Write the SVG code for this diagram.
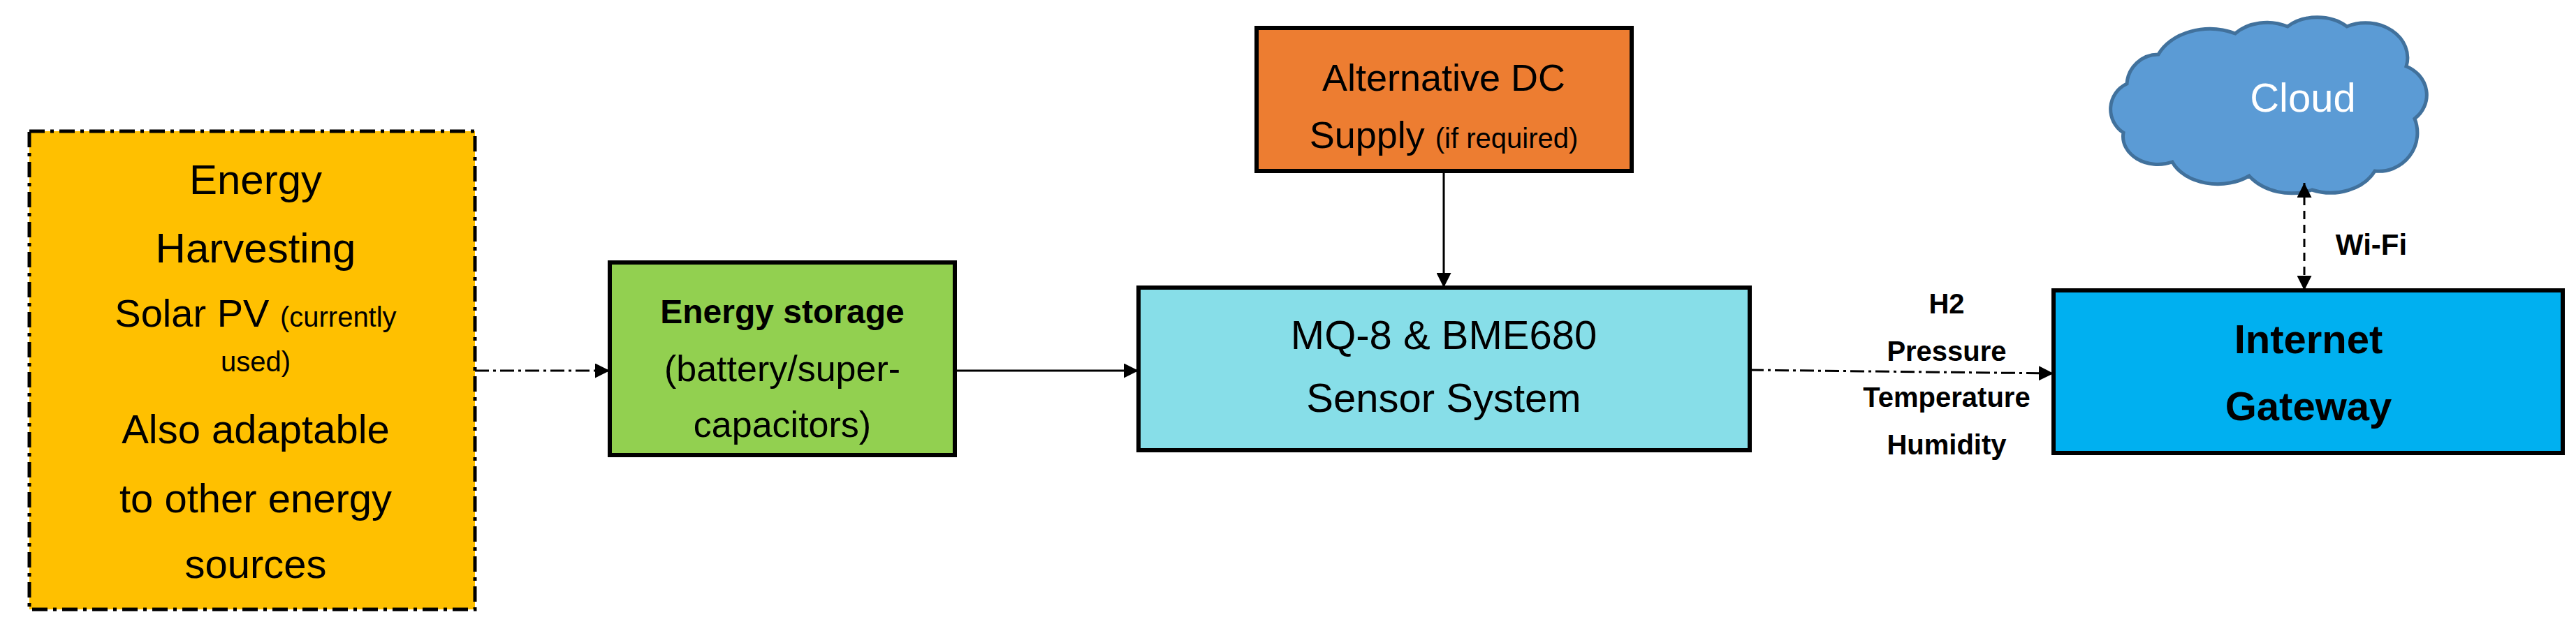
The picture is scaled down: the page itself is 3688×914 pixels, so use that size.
<svg xmlns="http://www.w3.org/2000/svg" width="3688" height="914" viewBox="0 0 3688 914">
<style>
.t{font-family:"Liberation Sans Narrow","Liberation Sans",Arial,sans-serif;text-anchor:middle;fill:#000}
.box{stroke:#000;stroke-width:6}
.b{font-weight:bold}
.c{stroke:#000;stroke-width:3;fill:none}
</style>
<defs>
<marker id="a" viewBox="0 0 10 10" refX="10" refY="5" markerWidth="6" markerHeight="6" markerUnits="userSpaceOnUse" orient="auto-start-reverse"><path d="M0,0L10,5L0,10z" fill="#000" transform="scale(1)"/></marker>
<marker id="m" viewBox="0 0 10 10" refX="10" refY="5" markerWidth="7" markerHeight="7" orient="auto-start-reverse"><path d="M0,0L10,5L0,10z" fill="#000"/></marker>
</defs>
<rect width="3688" height="914" fill="#fff"/>
<g id="harvest">
<rect x="42" y="188" width="638" height="685" fill="#FFC000" stroke="#000" stroke-width="5" stroke-dasharray="22,8,5,8"/>
<text class="t" x="366" y="278" font-size="60">Energy</text>
<text class="t" x="366" y="376" font-size="60">Harvesting</text>
<text class="t" x="366" y="468" font-size="56">Solar PV <tspan font-size="40">(currently</tspan></text>
<text class="t" x="366" y="532" font-size="40">used)</text>
<text class="t" x="366" y="635" font-size="58">Also adaptable</text>
<text class="t" x="366" y="734" font-size="58">to other energy</text>
<text class="t" x="366" y="828" font-size="58">sources</text>
</g>
<g id="storage">
<rect class="box" x="873" y="376" width="494" height="276" fill="#92D050"/>
<text class="t b" x="1120" y="463" font-size="48">Energy storage</text>
<text class="t" x="1120" y="546" font-size="52">(battery/super-</text>
<text class="t" x="1120" y="626" font-size="52">capacitors)</text>
</g>
<g id="sensor">
<rect class="box" x="1630" y="412" width="875" height="233" fill="#87DEE8"/>
<text class="t" x="2067" y="500" font-size="58">MQ-8 &amp; BME680</text>
<text class="t" x="2067" y="590" font-size="58">Sensor System</text>
</g>
<g id="altdc">
<rect class="box" x="1799" y="40" width="537" height="205" fill="#ED7D31"/>
<text class="t" x="2067" y="130" font-size="54">Alternative DC</text>
<text class="t" x="2067" y="212" font-size="54">Supply <tspan font-size="40">(if required)</tspan></text>
</g>
<g id="gateway">
<rect class="box" x="2940" y="416" width="729" height="233" fill="#00B0F0"/>
<text class="t b" x="3305" y="506" font-size="58">Internet</text>
<text class="t b" x="3305" y="602" font-size="58">Gateway</text>
</g>
<g id="cloud">
<path d="M3045,120 A45,45 0 0 1 3090,78 A80,60 0 0 1 3200,48 A60,45 0 0 1 3275,38 A60,45 0 0 1 3360,38 A60,50 0 0 1 3445,95 A50,45 0 0 1 3457,170 A55,55 0 0 1 3400,245 A70,55 0 0 1 3310,272 A75,60 0 0 1 3220,252 A70,50 0 0 1 3110,232 A50,40 0 0 1 3040,190 A40,40 0 0 1 3045,120 Z" fill="#5B9BD5" stroke="#41719C" stroke-width="5"/>
<text class="t" x="3297" y="160" font-size="58" fill="#fff" style="fill:#fff">Cloud</text>
</g>
<g id="connectors">
<line class="c" x1="680" y1="531" x2="873" y2="531" stroke-dasharray="20,6,4,6" marker-end="url(#m)"/>
<line class="c" x1="1367" y1="531" x2="1630" y2="531" marker-end="url(#m)"/>
<line class="c" x1="2067" y1="245" x2="2067" y2="412" marker-end="url(#m)"/>
<line class="c" x1="2505" y1="530" x2="2940" y2="535" stroke-dasharray="20,6,4,6" marker-end="url(#m)"/>
<line class="c" x1="3299" y1="262" x2="3299" y2="416" stroke-dasharray="12,8" marker-start="url(#m)" marker-end="url(#m)"/>
</g>
<g id="labels">
<text class="t b" x="3395" y="365" font-size="42">Wi-Fi</text>
<text class="t b" x="2787" y="449" font-size="40">H2</text>
<text class="t b" x="2787" y="517" font-size="40">Pressure</text>
<text class="t b" x="2787" y="583" font-size="40">Temperature</text>
<text class="t b" x="2787" y="651" font-size="40">Humidity</text>
</g>
</svg>
